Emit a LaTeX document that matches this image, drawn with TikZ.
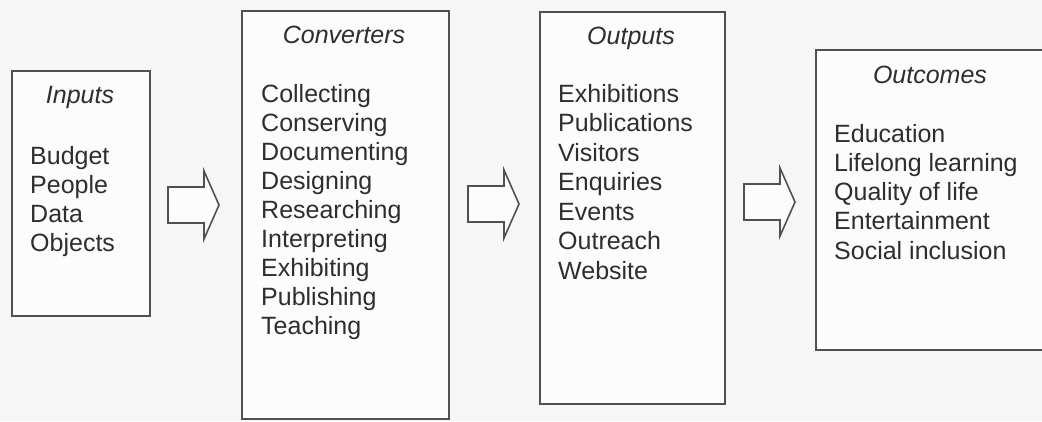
\documentclass[tikz,border=0pt]{standalone}
\usepackage{fontspec}
\setmainfont{Liberation Sans}
\definecolor{ink}{HTML}{2E2E2E}
\definecolor{frame}{HTML}{505050}
\definecolor{paper}{HTML}{F6F6F6}
\definecolor{sheet}{HTML}{FCFCFC}
\begin{document}
\begin{tikzpicture}[x=1pt,y=-1pt,
  panel/.style={draw=frame, line width=2pt, fill=sheet, inner sep=0pt, anchor=north west},
  head/.style={font=\fontsize{25}{29}\selectfont\itshape, text=ink, inner sep=0pt, anchor=base},
  item/.style={font=\fontsize{25}{29}\selectfont, text=ink, inner sep=0pt, anchor=base west},
  fatarrow/.pic={\draw[draw=frame, line width=1.6pt, fill=sheet, line join=miter]
      (0,-18) -- (36,-18) -- (36,-34) -- (51,0) -- (36,34) -- (36,18) -- (0,18) -- cycle;}]
\clip (0,0) rectangle (1042,421);
\fill[paper] (0,0) rectangle (1042,421);

% the four stages
\node[panel, minimum width=138pt, minimum height=245pt] (inputs) at (11,70) {};
\node[panel, minimum width=207pt, minimum height=408pt] (conv) at (241,10) {};
\node[panel, minimum width=185pt, minimum height=392pt] (outputs) at (539,11) {};
\node[panel, minimum width=232pt, minimum height=300pt] (outcomes) at (815,49) {};

% headings
\node[head] (inputs-t) at (80,103) {Inputs};
\node[head] (conv-t) at (344,43) {Converters};
\node[head] (outputs-t) at (631,44) {Outputs};
\node[head] (outcomes-t) at (930,83) {Outcomes};

% lists
\foreach \t [count=\i from 0] in {Budget,People,Data,Objects}
  \node[item] (in-\i) at (30,164+29*\i) {\t};
\foreach \t [count=\i from 0] in {Collecting,Conserving,Documenting,Designing,Researching,Interpreting,Exhibiting,Publishing,Teaching}
  \node[item] (cv-\i) at (261,102+29*\i) {\t};
\foreach \t [count=\i from 0] in {Exhibitions,Publications,Visitors,Enquiries,Events,Outreach,Website}
  \node[item] (out-\i) at (558,102+29.5*\i) {\t};
\foreach \t [count=\i from 0] in {Education,Lifelong learning,Quality of life,Entertainment,Social inclusion}
  \node[item] (oc-\i) at (834,142+29.3*\i) {\t};

% block arrows between the stages
\coordinate (a1) at (168,205);
\coordinate (a2) at (468,204);
\coordinate (a3) at (744,202);
\pic at (a1) {fatarrow};
\pic at (a2) {fatarrow};
\pic at (a3) {fatarrow};
\end{tikzpicture}
\end{document}
